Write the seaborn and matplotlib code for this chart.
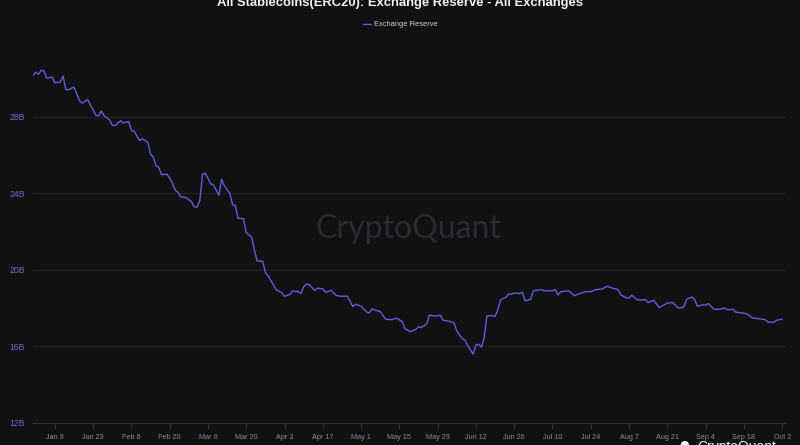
import matplotlib
matplotlib.use("Agg")
import matplotlib.pyplot as plt
import seaborn as sns
import pandas as pd
import numpy as np

# ---- data ----
dates = [
    "01-01","01-02","01-03","01-04","01-05","01-06","01-08","01-09","01-11","01-12",
    "01-13","01-14","01-16","01-18","01-19","01-21","01-24","01-25","01-26","01-27",
    "01-29","01-30","01-31","02-02","02-03","02-05","02-06","02-07","02-09","02-10",
    "02-12","02-13","02-14","02-15","02-16","02-17","02-19","02-20","02-21","02-22",
    "02-23","02-24","02-26","02-28","03-01","03-02","03-03","03-04","03-05","03-06",
    "03-07","03-08","03-10","03-11","03-12","03-14","03-15","03-16","03-17","03-19",
    "03-20","03-22","03-23","03-24","03-26","03-27","03-28","03-30","03-31","04-02",
    "04-03","04-05","04-06","04-08","04-09","04-10","04-11","04-12","04-14","04-15",
    "04-17","04-18","04-20","04-22","04-24","04-26","04-28","04-29","05-01","05-03",
    "05-04","05-05","05-07","05-08","05-10","05-12","05-14","05-16","05-17","05-19",
    "05-21","05-22","05-23","05-25","05-26","05-27","05-28","05-30","05-31","06-02",
    "06-04","06-05","06-07","06-08","06-09","06-10","06-11","06-12","06-13","06-14",
    "06-15","06-16","06-18","06-19","06-20","06-21","06-23","06-24","06-25","06-26",
    "06-28","06-29","06-30","07-02","07-03","07-06","07-07","07-10","07-11","07-12",
    "07-13","07-16","07-18","07-20","07-22","07-24","07-26","07-28","07-30","08-01",
    "08-03","08-04","08-06","08-07","08-08","08-10","08-13","08-14","08-16","08-18",
    "08-20","08-21","08-23","08-25","08-27","08-28","08-30","08-31","09-01","09-03",
    "09-04","09-05","09-07","09-09","09-11","09-12","09-14","09-15","09-17","09-19",
    "09-21","09-23","09-25","09-26","09-27","09-29","09-30","10-02",
]
reserve_b = [
    30.14,30.32,30.21,30.42,30.39,30.02,30.06,29.76,29.81,30.11,
    29.41,29.41,29.54,28.84,28.70,28.89,28.07,28.04,28.30,28.04,
    27.83,27.55,27.53,27.79,27.67,27.74,27.27,27.24,26.75,26.84,
    26.66,26.04,25.88,25.43,25.36,24.97,24.99,24.78,24.52,24.17,
    24.05,23.81,23.77,23.55,23.28,23.28,23.61,24.99,25.04,24.78,
    24.49,24.42,23.90,24.73,24.38,24.00,23.40,23.35,22.69,22.67,
    21.94,21.70,21.00,20.46,20.45,19.85,19.68,19.20,18.95,18.81,
    18.62,18.71,18.90,18.86,18.76,19.12,19.26,19.23,18.93,19.04,
    19.00,18.83,18.93,18.65,18.62,18.62,18.08,18.20,18.10,17.80,
    17.75,17.96,17.85,17.82,17.42,17.40,17.47,17.30,16.93,16.77,
    16.88,17.03,16.98,17.17,17.63,17.61,17.58,17.63,17.37,17.32,
    17.24,16.81,16.39,16.34,16.03,15.83,15.59,16.08,16.11,15.96,
    16.43,17.59,17.61,17.56,17.91,18.43,18.57,18.74,18.71,18.79,
    18.76,18.83,18.37,18.47,18.90,18.97,18.90,18.90,18.97,18.69,
    18.86,18.90,18.65,18.76,18.86,18.86,18.97,18.99,19.14,19.04,
    18.97,18.69,18.53,18.52,18.67,18.43,18.43,18.29,18.41,18.03,
    18.18,18.26,18.29,18.00,18.05,18.46,18.58,18.46,18.10,18.17,
    18.15,18.24,17.94,17.94,18.00,17.91,17.94,17.79,17.75,17.71,
    17.50,17.45,17.42,17.38,17.26,17.26,17.37,17.42,
]
year = 2023
xtick_dates = ["01-09","01-23","02-06","02-20","03-06","03-20","04-03","04-17","05-01",
               "05-15","05-29","06-12","06-26","07-10","07-24","08-07","08-21","09-04",
               "09-18","10-02"]
xtick_labels = ["Jan 9","Jan 23","Feb 6","Feb 20","Mar 6","Mar 20","Apr 3","Apr 17","May 1",
                "May 15","May 29","Jun 12","Jun 26","Jul 10","Jul 24","Aug 7","Aug 21","Sep 4",
                "Sep 18","Oct 2"]
ytick_values = [12, 16, 20, 24, 28]
ytick_labels = ["12B", "16B", "20B", "24B", "28B"]
series_name = "Exchange Reserve"
title = "All Stablecoins(ERC20): Exchange Reserve - All Exchanges"

df = pd.DataFrame({
    "date": pd.to_datetime([f"{year}-{d}" for d in dates]),
    "value": reserve_b,
})

# ---- style ----
BG = "#111114"
LINE = "#5b5fd8"
sns.set_theme(style="dark")
plt.rcParams["font.family"] = ["Liberation Sans", "DejaVu Sans"]
plt.rcParams["figure.facecolor"] = BG
plt.rcParams["axes.facecolor"] = BG

fig = plt.figure(figsize=(8, 4.45), dpi=100)
ax = fig.add_axes([33/800, 22/445, (785.7-33)/800, (423-49.6)/445])
ax.set_facecolor(BG)

sns.lineplot(data=df, x="date", y="value", ax=ax, color=LINE, linewidth=1.0,
             label=series_name, zorder=3)

ax.set_xlim(pd.Timestamp(f"{year}-01-01"), pd.Timestamp(f"{year}-01-01") + pd.Timedelta(days=275.3))
ax.set_ylim(12, 31.5)

ax.set_yticks(ytick_values)
ax.set_yticklabels(ytick_labels)
ax.set_xticks(pd.to_datetime([f"{year}-{d}" for d in xtick_dates]))
ax.set_xticklabels(xtick_labels)

ax.tick_params(axis="y", colors="#6a6ad6", labelsize=6.2, length=0, pad=6)
ax.tick_params(axis="x", colors="#303036", labelcolor="#8a8a90", labelsize=5.2,
               length=4, width=0.8, direction="out", pad=4, bottom=True)
for lbl in ax.get_yticklabels():
    lbl.set_color("#6a6ad6")

ax.grid(axis="y", color="#222226", linewidth=0.8)
ax.grid(axis="x", visible=False)
for s in ["top", "right", "left"]:
    ax.spines[s].set_visible(False)
ax.spines["bottom"].set_color("#303036")
ax.spines["bottom"].set_linewidth(0.8)
ax.set_xlabel("")
ax.set_ylabel("")

# legend
ax.legend_.remove()
leg = fig.legend(loc="center", bbox_to_anchor=(0.5, 1 - 24.5/445), frameon=False,
                 handlelength=1.1, handletextpad=0.35, fontsize=5.4)
for t in leg.get_texts():
    t.set_color("#d0d0d4")

# title (partially cut at top, as in the reference)
fig.text(0.5, 1 - 6/445, title, ha="center", va="baseline", fontsize=9.4,
         fontweight="bold", color="#f2f2f2")

# watermark
ax.text(408.5/800, 1 - 229/445, "CryptoQuant", transform=fig.transFigure,
        ha="center", va="center", fontsize=23, color="#2a2a30",
        family=["Lato", "DejaVu Sans"], zorder=0)

# bottom-right logo text (cut off at the bottom edge, as in the reference)
fig.text(684/800, 1 - 439.5/445, "\u25CF", ha="center", va="top", fontsize=8,
         color="#f2f2f2", family=["DejaVu Sans"])
fig.text(697/800, 1 - 439.5/445, "CryptoQuant", ha="left", va="top", fontsize=10,
         color="#f2f2f2")

fig.savefig("out.png", dpi=100, facecolor=BG)
